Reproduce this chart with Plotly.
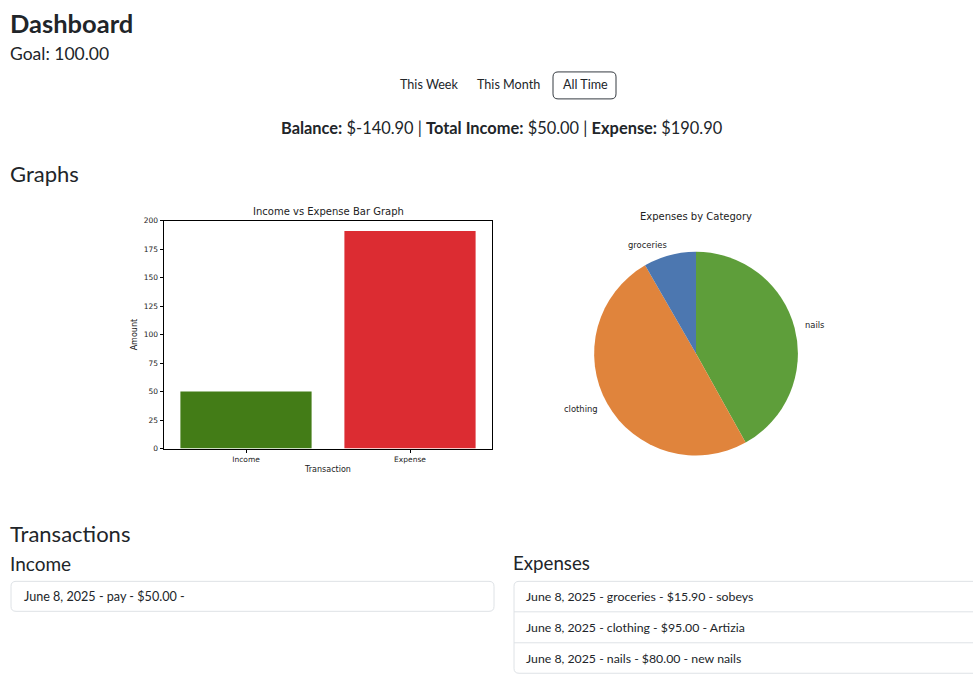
import math
import plotly.graph_objects as go

# ---- datos del dashboard ----
goal = 100.00
bar_categories = ["Income", "Expense"]
bar_amounts = [50.00, 190.90]
bar_colors = ["#437c17", "#dc2c32"]

pie_labels = ["groceries", "clothing", "nails"]
pie_values = [15.90, 95.00, 80.00]
pie_colors = ["#4c77b0", "#e0843c", "#5e9e3a"]

income_items = ["June 8, 2025 - pay - $50.00 -"]
expense_items = [
    "June 8, 2025 - groceries - $15.90 - sobeys",
    "June 8, 2025 - clothing - $95.00 - Artizia",
    "June 8, 2025 - nails - $80.00 - new nails",
]
period_buttons = ["This Week", "This Month", "All Time"]

W, H = 973, 687
FONT = "Lato, 'Noto Sans', sans-serif"
MPL = "'DejaVu Sans', sans-serif"
INK = "#212529"
# correccion vertical medida en la captura
Y_OFF, Y_S = 3.0, 0.988


def px(x):
    return x / W


def py(y):
    return 1 - (y - Y_OFF) / (Y_S * H)


def rrect(x0, y0, x1, y1, r, line="#dee2e6"):
    # rectangulo redondeado en pixeles -> paper
    p = (f"M {px(x0 + r)},{py(y0)} L {px(x1 - r)},{py(y0)} "
         f"Q {px(x1)},{py(y0)} {px(x1)},{py(y0 + r)} "
         f"L {px(x1)},{py(y1 - r)} Q {px(x1)},{py(y1)} {px(x1 - r)},{py(y1)} "
         f"L {px(x0 + r)},{py(y1)} Q {px(x0)},{py(y1)} {px(x0)},{py(y1 - r)} "
         f"L {px(x0)},{py(y0 + r)} Q {px(x0)},{py(y0)} {px(x0 + r)},{py(y0)} Z")
    return dict(type="path", path=p, xref="paper", yref="paper",
                line=dict(color=line, width=1), fillcolor="rgba(0,0,0,0)")


def text(x, y, s, size, anchor="left", color=INK, family=FONT, bold=False):
    if bold:
        s = f"<b>{s}</b>"
    return dict(x=px(x), y=py(y), xref="paper", yref="paper", text=s,
                showarrow=False, xanchor=anchor, yanchor="middle",
                borderpad=0, borderwidth=0,
                font=dict(family=family, size=size, color=color))


balance = bar_amounts[0] - bar_amounts[1]

fig = go.Figure()

# grafico de barras
fig.add_trace(go.Bar(x=bar_categories, y=bar_amounts, width=0.8,
                     marker=dict(color=bar_colors, line=dict(width=0)),
                     xaxis="x", yaxis="y", showlegend=False))

# grafico de torta (plotly en sentido horario => orden invertido)
pie_cx, pie_cy, pie_r = 696, 353, 102
fig.add_trace(go.Pie(labels=pie_labels[::-1], values=pie_values[::-1], sort=False,
                     direction="clockwise", rotation=0,
                     marker=dict(colors=pie_colors[::-1], line=dict(width=0)),
                     textinfo="none", showlegend=False,
                     domain=dict(x=[px(pie_cx - pie_r), px(pie_cx + pie_r)],
                                 y=[py(pie_cy + pie_r), py(pie_cy - pie_r)])))

ann = []
ann.append(text(10, 22, "Dashboard", 25.5, bold=True))
ann.append(text(10, 53, f"Goal: {goal:.2f}", 17.5))
btn_x = [429, 509, 585]
for b, xb in zip(period_buttons, btn_x):
    ann.append(text(xb, 84, b, 12.6, anchor="center"))
ann.append(text(502, 127,
                f"<b>Balance:</b> ${balance:.2f} | <b>Total Income:</b> ${bar_amounts[0]:.2f}"
                f" | <b>Expense:</b> ${bar_amounts[1]:.2f}", 16.4, anchor="center"))
ann.append(text(10, 173, "Graphs", 22))
ann.append(text(10, 533, "Transactions", 22))
ann.append(text(10, 563, "Income", 19))
ann.append(text(513, 563, "Expenses", 18.7))

# etiquetas de la torta (estilo matplotlib, radio 1.1)
total = sum(pie_values)
start = 90.0
for lab, v in zip(pie_labels, pie_values):
    span = 360 * v / total
    mid = math.radians(start + span / 2)
    lx = pie_cx + 1.1 * pie_r * math.cos(mid)
    ly = pie_cy - 1.1 * pie_r * math.sin(mid)
    ann.append(text(lx, ly, lab, 8.4, anchor="left" if math.cos(mid) > 0 else "right",
                    color="#222", family=MPL))
    start += span
ann.append(text(696, 216, "Expenses by Category", 10, anchor="center",
                color="#222", family=MPL))
ann.append(text(328, 211, "Income vs Expense Bar Graph", 10, anchor="center",
                color="#222", family=MPL))

shapes = [rrect(553, 71, 616, 98, 5, line="#343a40")]
shapes.append(rrect(11, 581, 494, 611, 5))
shapes.append(rrect(514, 581, 990, 673, 5))
row_y = [596, 627, 658]
for i, (s, yy) in enumerate(zip(expense_items, row_y)):
    ann.append(text(526, yy, s, 12.3))
    if i > 0:
        shapes.append(dict(type="line", xref="paper", yref="paper",
                           x0=px(514), x1=px(990), y0=py(yy - 15.5), y1=py(yy - 15.5),
                           line=dict(color="#dee2e6", width=1)))
for s in income_items:
    ann.append(text(24, 596, s, 12.6))

axis_common = dict(showline=True, linecolor="black", linewidth=0.8, mirror=True,
                   ticks="outside", ticklen=3.5, tickwidth=0.8, tickcolor="black",
                   showgrid=False, zeroline=False,
                   tickfont=dict(family=MPL, size=7.5, color="#222"))

fig.update_layout(
    width=W, height=H, autosize=False,
    margin=dict(l=0, r=0, t=0, b=0),
    paper_bgcolor="white", plot_bgcolor="white",
    xaxis=dict(domain=[px(164), px(492)], range=[-0.5, 1.5],
               anchor="y",
               title=dict(text="Transaction", standoff=3,
                          font=dict(family=MPL, size=8, color="#222")),
               **axis_common),
    yaxis=dict(domain=[py(448), py(220)], range=[0, 200], dtick=25,
               anchor="x",
               title=dict(text="Amount", standoff=4,
                          font=dict(family=MPL, size=8, color="#222")),
               **axis_common),
    annotations=ann,
    shapes=shapes,
)

fig.write_html("out.html", config={"displayModeBar": False},
               post_script="document.body.style.margin='0';")
